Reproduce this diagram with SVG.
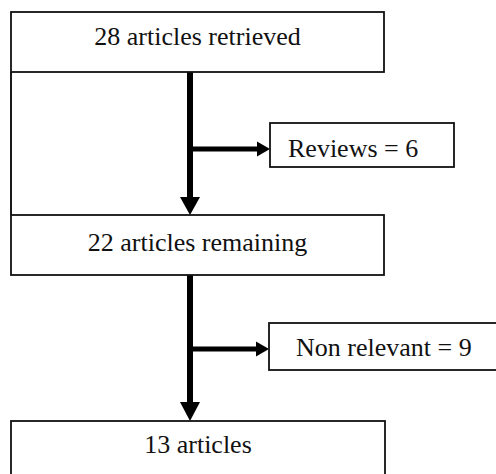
<svg xmlns="http://www.w3.org/2000/svg" width="496" height="474" viewBox="0 0 496 474">
<style>
.box{fill:#fff;stroke:#111;stroke-width:1.8}
.t{font-family:"Liberation Serif","Times New Roman",serif;font-size:26px;fill:#111}
.c{fill:none;stroke:#000}
.ah{fill:#000;stroke:none}
</style>
<rect width="496" height="474" fill="#fff"/>
<g id="connectors">
<line class="c" x1="11" y1="72" x2="11" y2="215" stroke-width="1.8"/>
<line class="c" x1="190" y1="72" x2="190" y2="199" stroke-width="6"/>
<polygon class="ah" points="180,197 200,197 190,215"/>
<line class="c" x1="190" y1="149" x2="259" y2="149" stroke-width="5"/>
<polygon class="ah" points="257,141.5 270,149 257,156.5"/>
<line class="c" x1="190" y1="275" x2="190" y2="404" stroke-width="6"/>
<polygon class="ah" points="180,402 200,402 190,421"/>
<line class="c" x1="190" y1="349" x2="258" y2="349" stroke-width="5"/>
<polygon class="ah" points="256,341.5 269,349 256,356.5"/>
</g>
<g id="n1">
<rect class="box" x="11" y="12" width="373" height="60"/>
<text class="t" x="197.5" y="45" text-anchor="middle">28 articles retrieved</text>
</g>
<g id="n2">
<rect class="box" x="270" y="123" width="184" height="44"/>
<text class="t" x="288" y="157">Reviews = 6</text>
</g>
<g id="n3">
<rect class="box" x="11" y="215" width="373" height="60"/>
<text class="t" x="197.5" y="251" text-anchor="middle">22 articles remaining</text>
</g>
<g id="n4">
<rect class="box" x="269" y="323" width="232" height="47"/>
<text class="t" x="296" y="356">Non relevant = 9</text>
</g>
<g id="n5">
<rect class="box" x="11" y="421" width="374" height="60"/>
<text class="t" x="198" y="453" text-anchor="middle">13 articles</text>
</g>
</svg>
